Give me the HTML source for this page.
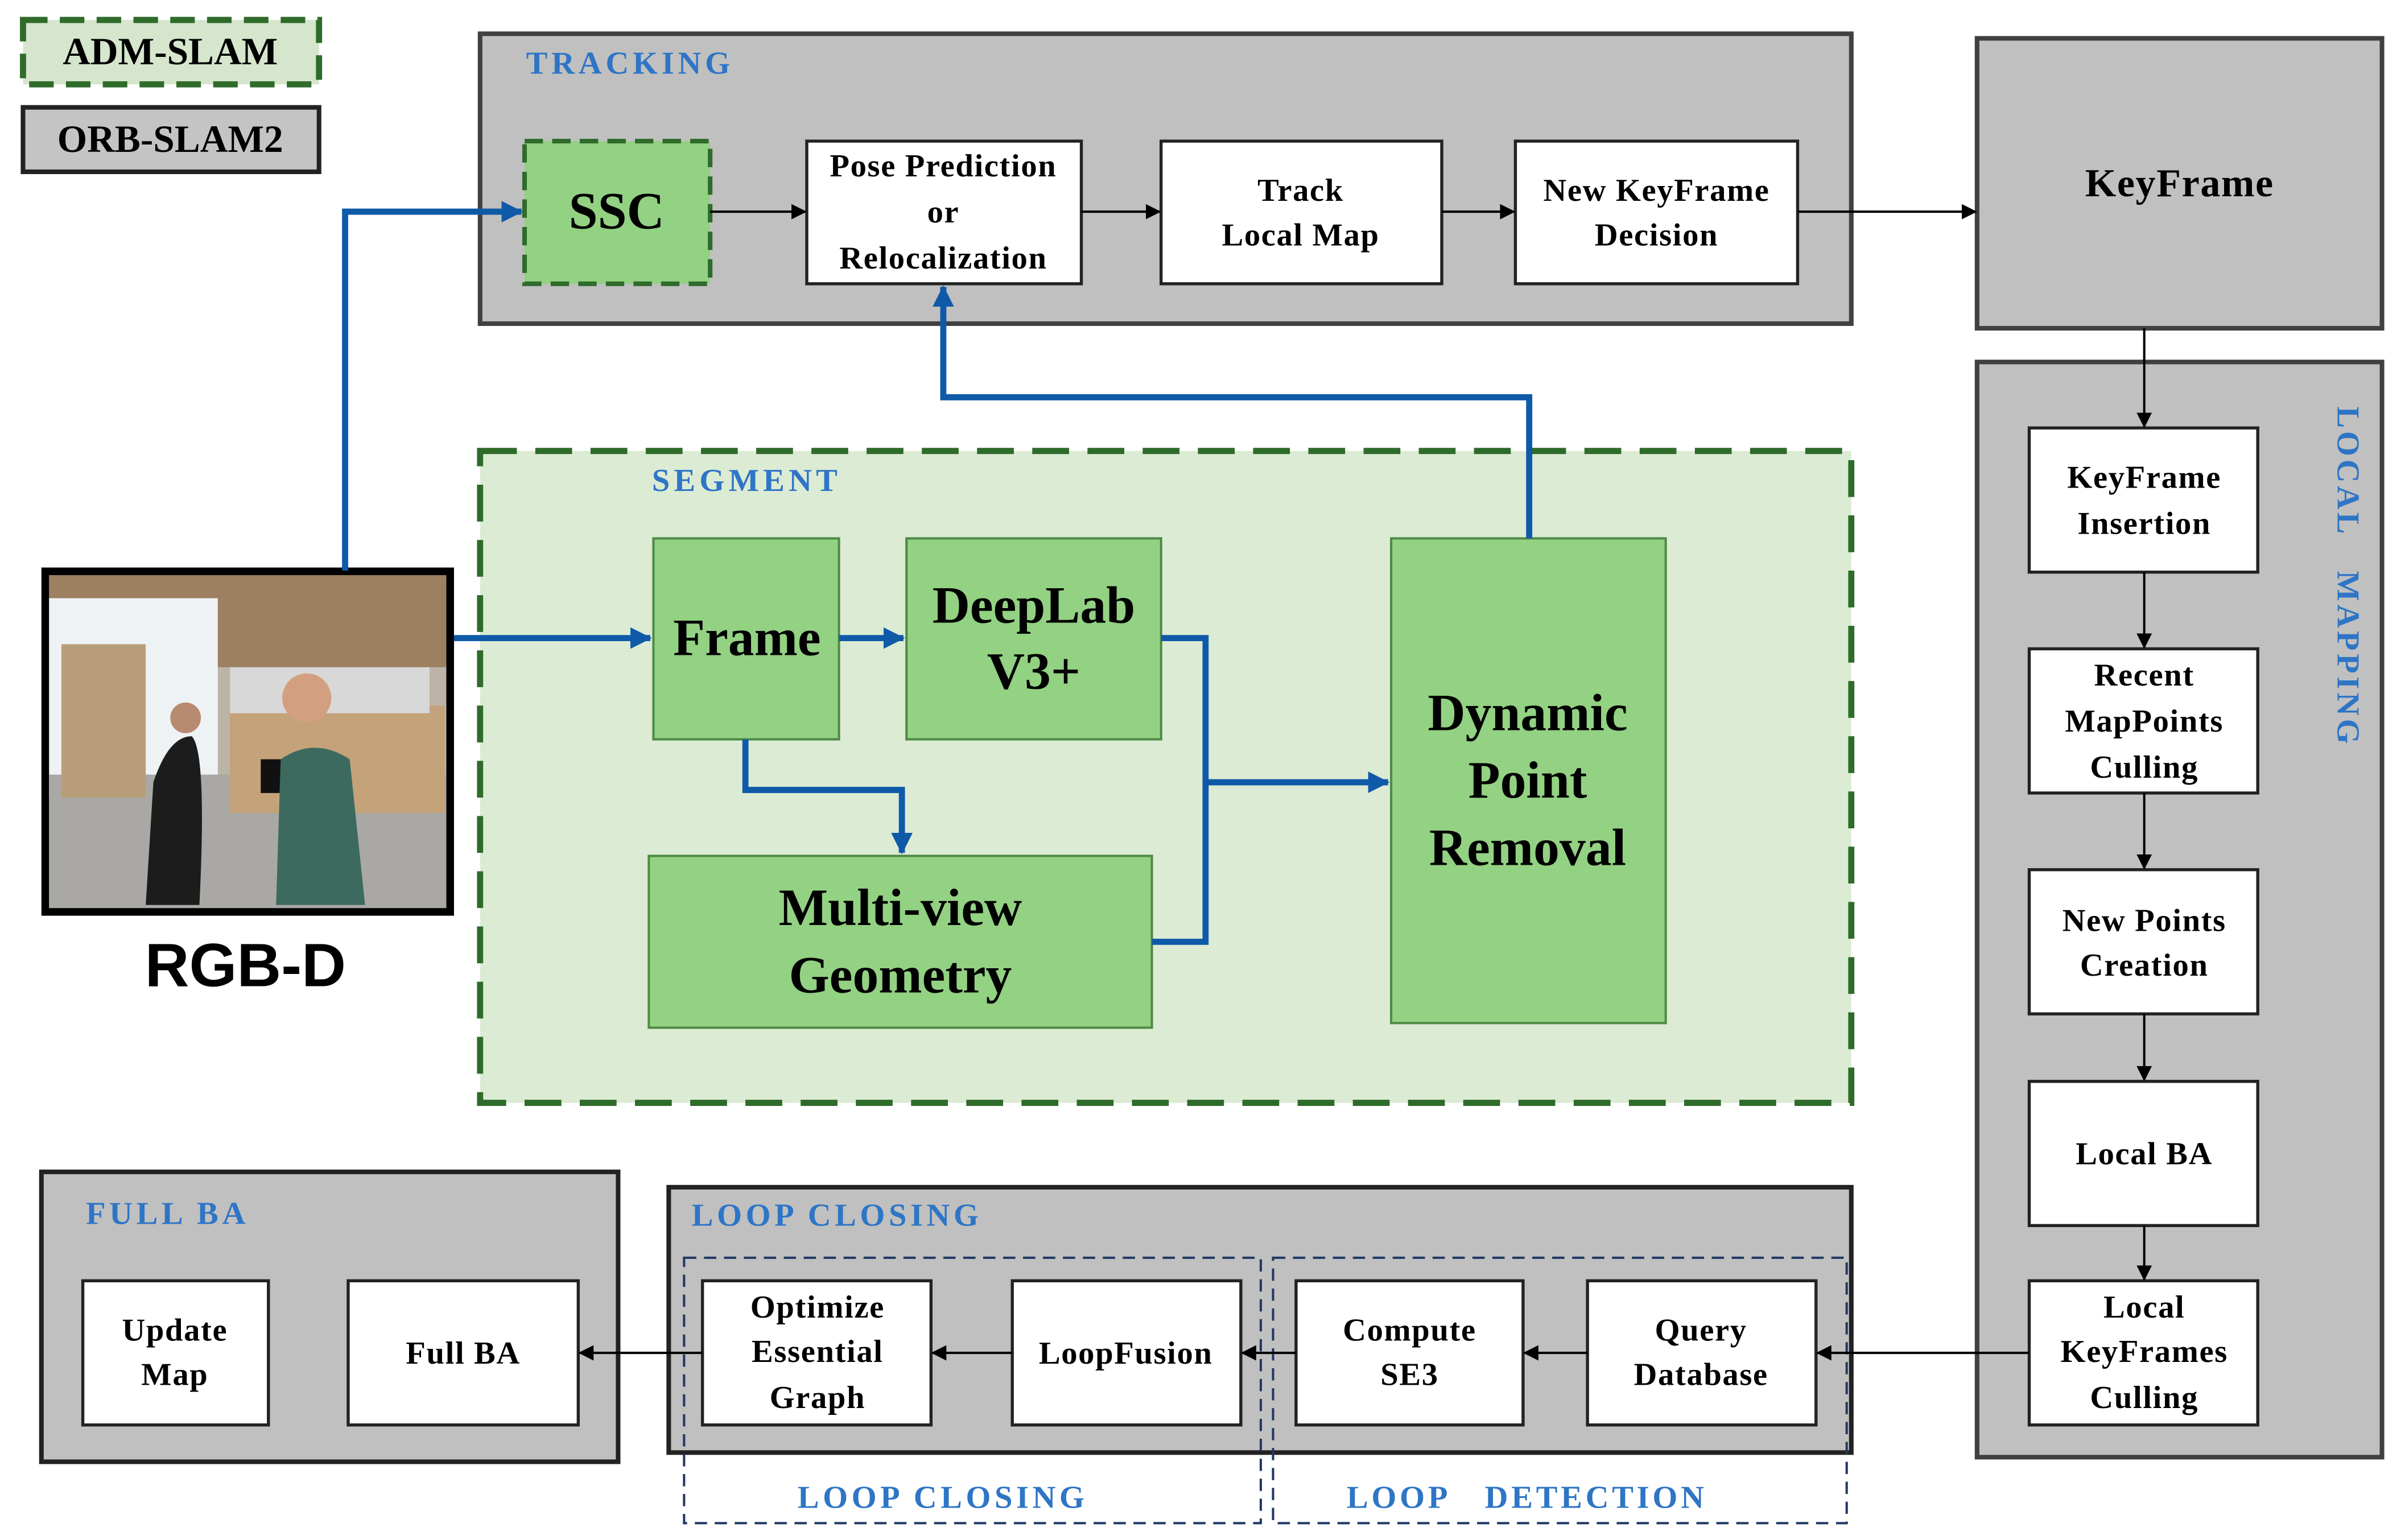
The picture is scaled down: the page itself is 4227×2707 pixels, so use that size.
<!DOCTYPE html>
<html><head><meta charset="utf-8"><style>
html,body{margin:0;padding:0;background:#fff;}
svg{display:block;}
text{font-family:"Liberation Serif",serif;font-weight:bold;}
.s{letter-spacing:0.6px;}
</style></head><body>
<svg width="4227" height="2707" viewBox="0 0 1568 1004" preserveAspectRatio="none" xmlns="http://www.w3.org/2000/svg">
<defs>
<marker id="ab" markerWidth="10" markerHeight="10" refX="9" refY="5" orient="auto" markerUnits="userSpaceOnUse"><path d="M0,0 L10,5 L0,10 z" fill="#000"/></marker>
<marker id="au" markerWidth="14" markerHeight="14" refX="13" refY="7" orient="auto" markerUnits="userSpaceOnUse"><path d="M0,0 L14,7 L0,14 z" fill="#0f5aa8"/></marker>
</defs>
<rect width="1568" height="1004" fill="#fff"/>
<!-- legend -->
<rect x="15" y="13" width="193" height="42" fill="#d6e6cd" stroke="#2f6b2a" stroke-width="4" stroke-dasharray="16,8"/>
<text x="111" y="42" font-size="25" text-anchor="middle" font-weight="normal">ADM-SLAM</text>
<rect x="15" y="70" width="193" height="42" fill="#c4c4c4" stroke="#222" stroke-width="3"/>
<text x="111" y="99" font-size="25" text-anchor="middle">ORB-SLAM2</text>

<!-- tracking -->
<rect x="313" y="22" width="894" height="189" fill="#c0c0c0" stroke="#404040" stroke-width="3"/>
<text x="343" y="48" font-size="21" fill="#2e75c6" textLength="133">TRACKING</text>
<rect x="342" y="92" width="121" height="93" fill="#93d183" stroke="#2f6b2a" stroke-width="3" stroke-dasharray="12,6"/>
<text x="402" y="149" font-size="34" text-anchor="middle" font-weight="normal">SSC</text>
<g fill="#fff" stroke="#222" stroke-width="2">
<rect x="526" y="92" width="179" height="93"/>
<rect x="757" y="92" width="183" height="93"/>
<rect x="988" y="92" width="184" height="93"/>
</g>
<g font-size="21" text-anchor="middle" class="s">
<text x="615" y="115">Pose Prediction</text><text x="615" y="145">or</text><text x="615" y="175">Relocalization</text>
<text x="848" y="131">Track</text><text x="848" y="160">Local Map</text>
<text x="1080" y="131">New KeyFrame</text><text x="1080" y="160">Decision</text>
</g>
<rect x="1289" y="25" width="264" height="189" fill="#c0c0c0" stroke="#404040" stroke-width="3"/>
<text x="1421" y="128" font-size="26" text-anchor="middle" class="s">KeyFrame</text>

<!-- local mapping -->
<rect x="1289" y="236" width="264" height="714" fill="#c0c0c0" stroke="#404040" stroke-width="3"/>
<text transform="translate(1524,265) rotate(90)" font-size="21" fill="#2e75c6" font-weight="normal" textLength="220">LOCAL&#160;&#160;&#160;MAPPING</text>
<g fill="#fff" stroke="#222" stroke-width="2">
<rect x="1323" y="279" width="149" height="94"/>
<rect x="1323" y="423" width="149" height="94"/>
<rect x="1323" y="567" width="149" height="94"/>
<rect x="1323" y="705" width="149" height="94"/>
<rect x="1323" y="835" width="149" height="94"/>
</g>
<g font-size="21" text-anchor="middle" class="s">
<text x="1398" y="318">KeyFrame</text><text x="1398" y="348">Insertion</text>
<text x="1398" y="447">Recent</text><text x="1398" y="477">MapPoints</text><text x="1398" y="507">Culling</text>
<text x="1398" y="607">New Points</text><text x="1398" y="636">Creation</text>
<text x="1398" y="759">Local BA</text>
<text x="1398" y="859">Local</text><text x="1398" y="888">KeyFrames</text><text x="1398" y="918">Culling</text>
</g>

<!-- segment -->
<rect x="313" y="294" width="894" height="425" fill="#dcebd4" stroke="#2f6b2a" stroke-width="4" stroke-dasharray="24,12"/>
<text x="425" y="320" font-size="21" fill="#2e75c6" textLength="121">SEGMENT</text>
<g fill="#93d183" stroke="#4e8a45" stroke-width="1.5">
<rect x="426" y="351" width="121" height="131"/>
<rect x="591" y="351" width="166" height="131"/>
<rect x="423" y="558" width="328" height="112"/>
<rect x="907" y="351" width="179" height="316"/>
</g>
<g font-size="34" text-anchor="middle">
<text x="487" y="427">Frame</text>
<text x="674" y="406">DeepLab</text><text x="674" y="449">V3+</text>
<text x="587" y="603">Multi-view</text><text x="587" y="647">Geometry</text>
<text x="996" y="476">Dynamic</text><text x="996" y="520">Point</text><text x="996" y="564">Removal</text>
</g>

<!-- photo -->
<rect x="27" y="370" width="269" height="227" fill="#000"/>
<rect x="32" y="375" width="259" height="217" fill="#bdb4a8"/>
<rect x="32" y="375" width="259" height="60" fill="#9c8060"/>
<rect x="32" y="390" width="110" height="130" fill="#eef2f5"/>
<rect x="32" y="505" width="259" height="87" fill="#a9a8a5"/>
<rect x="40" y="420" width="55" height="100" fill="#b89e78"/>
<rect x="150" y="460" width="140" height="70" fill="#c4a27a"/>
<rect x="150" y="435" width="130" height="30" fill="#d8d8d8"/>
<rect x="170" y="495" width="20" height="22" fill="#111"/>
<path d="M100,510 Q110,480 125,480 Q135,490 130,590 L95,590 Z" fill="#1c1c1c"/>
<circle cx="121" cy="468" r="10" fill="#b88a70"/>
<path d="M183,495 Q205,480 228,495 L238,590 L180,590 Z" fill="#3d6a5e"/>
<circle cx="200" cy="455" r="16" fill="#d2a080"/>
<text x="160" y="643" font-size="40" text-anchor="middle" style="font-family:'Liberation Sans',sans-serif">RGB-D</text>

<!-- full BA -->
<rect x="27" y="764" width="376" height="189" fill="#c0c0c0" stroke="#222" stroke-width="3"/>
<text x="56" y="798" font-size="21" fill="#2e75c6" textLength="104">FULL BA</text>
<g fill="#fff" stroke="#222" stroke-width="2">
<rect x="54" y="835" width="121" height="94"/>
<rect x="227" y="835" width="150" height="94"/>
</g>
<!-- loop closing -->
<rect x="436" y="774" width="771" height="173" fill="#c0c0c0" stroke="#222" stroke-width="3"/>
<text x="451" y="799" font-size="21" fill="#2e75c6" textLength="187">LOOP CLOSING</text>
<g fill="none" stroke="#1f3864" stroke-width="1.5" stroke-dasharray="8,5">
<rect x="446" y="820" width="376" height="173"/>
<rect x="830" y="820" width="374" height="173"/>
</g>
<g fill="#fff" stroke="#222" stroke-width="2">
<rect x="458" y="835" width="149" height="94"/>
<rect x="660" y="835" width="149" height="94"/>
<rect x="845" y="835" width="148" height="94"/>
<rect x="1035" y="835" width="149" height="94"/>
</g>
<g font-size="21" text-anchor="middle" class="s">
<text x="114" y="874">Update</text><text x="114" y="903">Map</text>
<text x="302" y="889">Full BA</text>
<text x="533" y="859">Optimize</text><text x="533" y="888">Essential</text><text x="533" y="918">Graph</text>
<text x="734" y="889">LoopFusion</text>
<text x="919" y="874">Compute</text><text x="919" y="903">SE3</text>
<text x="1109" y="874">Query</text><text x="1109" y="903">Database</text>
</g>
<text x="520" y="983" font-size="21" fill="#2e75c6" textLength="187">LOOP CLOSING</text>
<text x="878" y="983" font-size="21" fill="#2e75c6" textLength="233">LOOP&#160;&#160;&#160;DETECTION</text>

<!-- black arrows -->
<g stroke="#000" stroke-width="1.5" marker-end="url(#ab)">
<line x1="463" y1="138" x2="525" y2="138"/>
<line x1="705" y1="138" x2="756" y2="138"/>
<line x1="940" y1="138" x2="987" y2="138"/>
<line x1="1172" y1="138" x2="1288" y2="138"/>
<line x1="1398" y1="214" x2="1398" y2="278"/>
<line x1="1398" y1="373" x2="1398" y2="422"/>
<line x1="1398" y1="517" x2="1398" y2="566"/>
<line x1="1398" y1="661" x2="1398" y2="704"/>
<line x1="1398" y1="799" x2="1398" y2="834"/>
<line x1="1323" y1="882" x2="1185" y2="882"/>
<line x1="1035" y1="882" x2="994" y2="882"/>
<line x1="845" y1="882" x2="810" y2="882"/>
<line x1="660" y1="882" x2="608" y2="882"/>
<line x1="458" y1="882" x2="378" y2="882"/>
</g>
<!-- blue arrows -->
<g stroke="#0f5aa8" stroke-width="4" fill="none" marker-end="url(#au)">
<polyline points="225,372 225,138 340,138"/>
<line x1="296" y1="416" x2="424" y2="416"/>
<line x1="547" y1="416" x2="589" y2="416"/>
<polyline points="486,482 486,515 588,515 588,556"/>
<line x1="786" y1="510" x2="905" y2="510"/>
<polyline points="997,351 997,259 615,259 615,187"/>
</g>
<polyline points="757,416 786,416 786,614 751,614" stroke="#0f5aa8" stroke-width="4" fill="none"/>
</svg>
</body></html>
